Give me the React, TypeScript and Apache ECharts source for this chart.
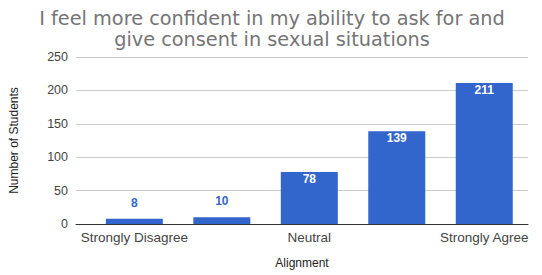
import React, { useEffect, useRef } from "react";
import * as echarts from "echarts";

const titleLines = ["I feel more confident in my ability to ask for and", "give consent in sexual situations"];
const categories = ["Strongly Disagree", "Disagree", "Neutral", "Agree", "Strongly Agree"];
const counts = [8, 10, 78, 139, 211];
const shownCategoryIndexes = [0, 2, 4];
const yTicks = [0, 50, 100, 150, 200, 250];

const BLUE = "#3366cc";

export default function App() {
  const ref = useRef<HTMLDivElement>(null);
  useEffect(() => {
    if (!ref.current) return;
    const chart = echarts.init(ref.current, undefined, { renderer: "svg" });
    const font = "Arial, 'Liberation Sans', sans-serif";
    chart.setOption({
      animation: false,
      backgroundColor: "#ffffff",
      title: {
        text: titleLines.join("\n"),
        left: 267,
        textAlign: "center",
        top: 3,
        textStyle: {
          fontFamily: "'DejaVu Sans', sans-serif",
          fontSize: 19.3,
          fontWeight: "normal",
          color: "#757575",
          lineHeight: 21,
        },
      },
      grid: { left: 73, right: 14, top: 57, bottom: 51 },
      xAxis: {
        type: "value",
        min: -0.667,
        max: 4.5,
        name: "Alignment",
        nameLocation: "middle",
        nameGap: 33,
        nameTextStyle: { fontFamily: font, fontSize: 12, color: "#222" },
        splitLine: { show: false },
        axisTick: { show: false },
        axisLine: { show: true, lineStyle: { color: "#333", width: 1 } },
        axisLabel: {
          customValues: shownCategoryIndexes,
          formatter: (v: number) => categories[Math.round(v)] ?? "",
          fontFamily: font,
          fontSize: 13.5,
          color: "#444",
          margin: 6,
        },
      },
      yAxis: {
        type: "value",
        min: yTicks[0],
        max: yTicks[yTicks.length - 1],
        interval: 50,
        name: "Number of Students",
        nameLocation: "middle",
        nameGap: 56,
        nameTextStyle: { fontFamily: font, fontSize: 12, color: "#222" },
        axisLine: { show: false },
        axisTick: { show: false },
        splitLine: { lineStyle: { color: "#cccccc", width: 1 } },
        axisLabel: { fontFamily: font, fontSize: 12.5, color: "#444", margin: 8 },
      },
      series: [
        {
          type: "bar",
          barWidth: 57,
          itemStyle: { color: BLUE },
          data: counts.map((c, i) => {
            const small = c < 30;
            return {
              value: [i, c],
              label: {
                show: true,
                position: small ? "top" : "insideTop",
                distance: small ? 10 : 1,
                color: small ? BLUE : "#ffffff",
                fontFamily: font,
                fontSize: 12,
                fontWeight: "bold",
                formatter: String(c),
              },
            };
          }),
        },
      ],
    });
    return () => chart.dispose();
  }, []);
  return <div ref={ref} style={{ width: 542, height: 275, position: "absolute", left: 0, top: 0 }} />;
}
